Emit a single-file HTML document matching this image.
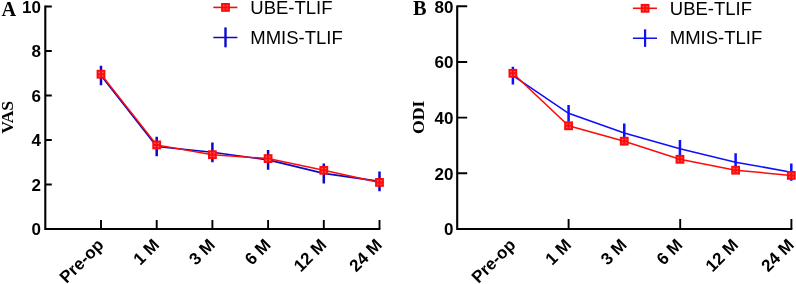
<!DOCTYPE html>
<html><head><meta charset="utf-8"><style>
html,body{margin:0;padding:0;background:#fff;}
body{width:796px;height:284px;overflow:hidden;}
svg{display:block;will-change:transform;}
</style></head><body>
<svg width="796" height="284" viewBox="0 0 796 284">
<rect width="796" height="284" fill="#fff"/>
<path d="M45.3 5.5V230M44.3 229H380.3" stroke="#000" stroke-width="2.1" fill="none"/>
<path d="M45.3 6.5h6.5M45.3 51h6.5M45.3 95.5h6.5M45.3 140h6.5M45.3 184.5h6.5" stroke="#000" stroke-width="1.9" fill="none"/>
<path d="M101 220V229M156.7 220V229M212.4 220V229M268.1 220V229M323.8 220V229M379.5 220V229" stroke="#000" stroke-width="1.9" fill="none"/>
<text x="40.9" y="12.9" text-anchor="end" font-family='"Liberation Sans", sans-serif' font-weight="bold" font-size="17">10</text>
<text x="40.9" y="57.4" text-anchor="end" font-family='"Liberation Sans", sans-serif' font-weight="bold" font-size="17">8</text>
<text x="40.9" y="101.9" text-anchor="end" font-family='"Liberation Sans", sans-serif' font-weight="bold" font-size="17">6</text>
<text x="40.9" y="146.4" text-anchor="end" font-family='"Liberation Sans", sans-serif' font-weight="bold" font-size="17">4</text>
<text x="40.9" y="190.9" text-anchor="end" font-family='"Liberation Sans", sans-serif' font-weight="bold" font-size="17">2</text>
<text x="40.9" y="235.4" text-anchor="end" font-family='"Liberation Sans", sans-serif' font-weight="bold" font-size="17">0</text>
<text transform="translate(104.6 246) rotate(-45)" text-anchor="end" font-family='"Liberation Sans", sans-serif' font-weight="bold" font-size="17">Pre-op</text>
<text transform="translate(160.3 246) rotate(-45)" text-anchor="end" font-family='"Liberation Sans", sans-serif' font-weight="bold" font-size="17">1 M</text>
<text transform="translate(216 246) rotate(-45)" text-anchor="end" font-family='"Liberation Sans", sans-serif' font-weight="bold" font-size="17">3 M</text>
<text transform="translate(271.7 246) rotate(-45)" text-anchor="end" font-family='"Liberation Sans", sans-serif' font-weight="bold" font-size="17">6 M</text>
<text transform="translate(327.4 246) rotate(-45)" text-anchor="end" font-family='"Liberation Sans", sans-serif' font-weight="bold" font-size="17">12 M</text>
<text transform="translate(383.1 246) rotate(-45)" text-anchor="end" font-family='"Liberation Sans", sans-serif' font-weight="bold" font-size="17">24 M</text>
<polyline points="101,75.45 156.7,146.5 212.4,152.3 268.1,159.9 323.8,173.4 379.5,181.4" stroke="#0a0acc" stroke-width="1.6" fill="none"/>
<path d="M101 65.65V85.25M156.7 136.7V156.3M212.4 142.4V162.2M268.1 150V169.8M323.8 163.4V183.4M379.5 171.5V191.3" stroke="#0a0acc" stroke-width="2.5" fill="none"/>
<polyline points="101,74.2 156.7,144.9 212.4,154.7 268.1,158.6 323.8,170.3 379.5,182.4" stroke="#ff0a0a" stroke-width="1.5" fill="none"/>
<rect x="96.6" y="69.8" width="8.8" height="8.8" fill="#ff0a0a"/>
<path d="M98.6 71.8h1.4v1.4h-1.4zM98.6 75.2h1.4v1.4h-1.4zM102 71.8h1.4v1.4h-1.4zM102 75.2h1.4v1.4h-1.4z" fill="#f46a6a"/>
<rect x="152.3" y="140.5" width="8.8" height="8.8" fill="#ff0a0a"/>
<path d="M154.3 142.5h1.4v1.4h-1.4zM154.3 145.9h1.4v1.4h-1.4zM157.7 142.5h1.4v1.4h-1.4zM157.7 145.9h1.4v1.4h-1.4z" fill="#f46a6a"/>
<rect x="208" y="150.3" width="8.8" height="8.8" fill="#ff0a0a"/>
<path d="M210 152.3h1.4v1.4h-1.4zM210 155.7h1.4v1.4h-1.4zM213.4 152.3h1.4v1.4h-1.4zM213.4 155.7h1.4v1.4h-1.4z" fill="#f46a6a"/>
<rect x="263.7" y="154.2" width="8.8" height="8.8" fill="#ff0a0a"/>
<path d="M265.7 156.2h1.4v1.4h-1.4zM265.7 159.6h1.4v1.4h-1.4zM269.1 156.2h1.4v1.4h-1.4zM269.1 159.6h1.4v1.4h-1.4z" fill="#f46a6a"/>
<rect x="319.4" y="165.9" width="8.8" height="8.8" fill="#ff0a0a"/>
<path d="M321.4 167.9h1.4v1.4h-1.4zM321.4 171.3h1.4v1.4h-1.4zM324.8 167.9h1.4v1.4h-1.4zM324.8 171.3h1.4v1.4h-1.4z" fill="#f46a6a"/>
<rect x="375.1" y="178" width="8.8" height="8.8" fill="#ff0a0a"/>
<path d="M377.1 180h1.4v1.4h-1.4zM377.1 183.4h1.4v1.4h-1.4zM380.5 180h1.4v1.4h-1.4zM380.5 183.4h1.4v1.4h-1.4z" fill="#f46a6a"/>
<text transform="translate(7.4 117.3) rotate(-90)" text-anchor="middle" dy="6.07" font-family='"Liberation Serif", serif' font-weight="bold" font-size="17.6">VAS</text>
<text x="1.5" y="15.6" font-family='"Liberation Serif", serif' font-weight="bold" font-size="20.3">A</text>
<path d="M213.3 7.4H237.4" stroke="#ff0a0a" stroke-width="1.6"/>
<rect x="221.1" y="3" width="8.8" height="8.8" fill="#ff0a0a"/>
<path d="M223.1 5h1.4v1.4h-1.4zM223.1 8.4h1.4v1.4h-1.4zM226.5 5h1.4v1.4h-1.4zM226.5 8.4h1.4v1.4h-1.4z" fill="#f46a6a"/>
<path d="M213.3 37.4H237.4M225.5 27.6V47.2" stroke="#0a0acc" stroke-width="1.5"/>
<path d="M225.5 27.6V47.2" stroke="#0a0acc" stroke-width="2.2"/>
<text x="250.3" y="13.8" font-family='"Liberation Sans", sans-serif' font-size="18.5">UBE-TLIF</text>
<text x="250.3" y="43.7" font-family='"Liberation Sans", sans-serif' font-size="18.5">MMIS-TLIF</text>
<path d="M457.2 5.4V230M456.2 229H792.3" stroke="#000" stroke-width="2.1" fill="none"/>
<path d="M457.2 6.28h10M457.2 61.96h10M457.2 117.64h10M457.2 173.32h10" stroke="#000" stroke-width="1.9" fill="none"/>
<path d="M568.6 219V229M680.2 219V229M791.4 219V229" stroke="#000" stroke-width="1.9" fill="none"/>
<text x="453.4" y="12.68" text-anchor="end" font-family='"Liberation Sans", sans-serif' font-weight="bold" font-size="17">80</text>
<text x="453.4" y="68.36" text-anchor="end" font-family='"Liberation Sans", sans-serif' font-weight="bold" font-size="17">60</text>
<text x="453.4" y="124.04" text-anchor="end" font-family='"Liberation Sans", sans-serif' font-weight="bold" font-size="17">40</text>
<text x="453.4" y="179.72" text-anchor="end" font-family='"Liberation Sans", sans-serif' font-weight="bold" font-size="17">20</text>
<text x="453.4" y="235.4" text-anchor="end" font-family='"Liberation Sans", sans-serif' font-weight="bold" font-size="17">0</text>
<text transform="translate(516.5 246) rotate(-45)" text-anchor="end" font-family='"Liberation Sans", sans-serif' font-weight="bold" font-size="17">Pre-op</text>
<text transform="translate(572.18 246) rotate(-45)" text-anchor="end" font-family='"Liberation Sans", sans-serif' font-weight="bold" font-size="17">1 M</text>
<text transform="translate(627.86 246) rotate(-45)" text-anchor="end" font-family='"Liberation Sans", sans-serif' font-weight="bold" font-size="17">3 M</text>
<text transform="translate(683.54 246) rotate(-45)" text-anchor="end" font-family='"Liberation Sans", sans-serif' font-weight="bold" font-size="17">6 M</text>
<text transform="translate(739.22 246) rotate(-45)" text-anchor="end" font-family='"Liberation Sans", sans-serif' font-weight="bold" font-size="17">12 M</text>
<text transform="translate(794.9 246) rotate(-45)" text-anchor="end" font-family='"Liberation Sans", sans-serif' font-weight="bold" font-size="17">24 M</text>
<polyline points="512.9,75.65 568.58,113.3 624.26,132.9 679.94,148.7 735.62,162.2 791.3,172.2" stroke="#0f0ffa" stroke-width="1.6" fill="none"/>
<path d="M512.9 66.75V84.55M568.58 104.9V121.7M624.26 123.4V142.4M679.94 139.9V157.5M735.62 153.3V171.1M791.3 163.6V180.8" stroke="#0f0ffa" stroke-width="2.5" fill="none"/>
<polyline points="512.9,73.3 568.58,125.8 624.26,141.2 679.94,159.3 735.62,170.2 791.3,175.4" stroke="#ff0a0a" stroke-width="1.5" fill="none"/>
<rect x="508.5" y="68.9" width="8.8" height="8.8" fill="#ff0a0a"/>
<path d="M510.5 70.9h1.4v1.4h-1.4zM510.5 74.3h1.4v1.4h-1.4zM513.9 70.9h1.4v1.4h-1.4zM513.9 74.3h1.4v1.4h-1.4z" fill="#f46a6a"/>
<rect x="564.18" y="121.4" width="8.8" height="8.8" fill="#ff0a0a"/>
<path d="M566.18 123.4h1.4v1.4h-1.4zM566.18 126.8h1.4v1.4h-1.4zM569.58 123.4h1.4v1.4h-1.4zM569.58 126.8h1.4v1.4h-1.4z" fill="#f46a6a"/>
<rect x="619.86" y="136.8" width="8.8" height="8.8" fill="#ff0a0a"/>
<path d="M621.86 138.8h1.4v1.4h-1.4zM621.86 142.2h1.4v1.4h-1.4zM625.26 138.8h1.4v1.4h-1.4zM625.26 142.2h1.4v1.4h-1.4z" fill="#f46a6a"/>
<rect x="675.54" y="154.9" width="8.8" height="8.8" fill="#ff0a0a"/>
<path d="M677.54 156.9h1.4v1.4h-1.4zM677.54 160.3h1.4v1.4h-1.4zM680.94 156.9h1.4v1.4h-1.4zM680.94 160.3h1.4v1.4h-1.4z" fill="#f46a6a"/>
<rect x="731.22" y="165.8" width="8.8" height="8.8" fill="#ff0a0a"/>
<path d="M733.22 167.8h1.4v1.4h-1.4zM733.22 171.2h1.4v1.4h-1.4zM736.62 167.8h1.4v1.4h-1.4zM736.62 171.2h1.4v1.4h-1.4z" fill="#f46a6a"/>
<rect x="786.9" y="171" width="8.8" height="8.8" fill="#ff0a0a"/>
<path d="M788.9 173h1.4v1.4h-1.4zM788.9 176.4h1.4v1.4h-1.4zM792.3 173h1.4v1.4h-1.4zM792.3 176.4h1.4v1.4h-1.4z" fill="#f46a6a"/>
<text transform="translate(418.3 117.3) rotate(-90)" text-anchor="middle" dy="6.11" font-family='"Liberation Serif", serif' font-weight="bold" font-size="17.7">ODI</text>
<text x="412.9" y="15.4" font-family='"Liberation Serif", serif' font-weight="bold" font-size="20.3">B</text>
<path d="M632.9 8.3H657" stroke="#ff0a0a" stroke-width="1.6"/>
<rect x="640.7" y="3.9" width="8.8" height="8.8" fill="#ff0a0a"/>
<path d="M642.7 5.9h1.4v1.4h-1.4zM642.7 9.3h1.4v1.4h-1.4zM646.1 5.9h1.4v1.4h-1.4zM646.1 9.3h1.4v1.4h-1.4z" fill="#f46a6a"/>
<path d="M632.9 38.2H657M645.1 29.5V46.7" stroke="#0f0ffa" stroke-width="1.5"/>
<path d="M645.1 29.5V46.7" stroke="#0f0ffa" stroke-width="2.2"/>
<text x="669.8" y="14.8" font-family='"Liberation Sans", sans-serif' font-size="18.5">UBE-TLIF</text>
<text x="669.8" y="43.9" font-family='"Liberation Sans", sans-serif' font-size="18.5">MMIS-TLIF</text>
</svg>
</body></html>
